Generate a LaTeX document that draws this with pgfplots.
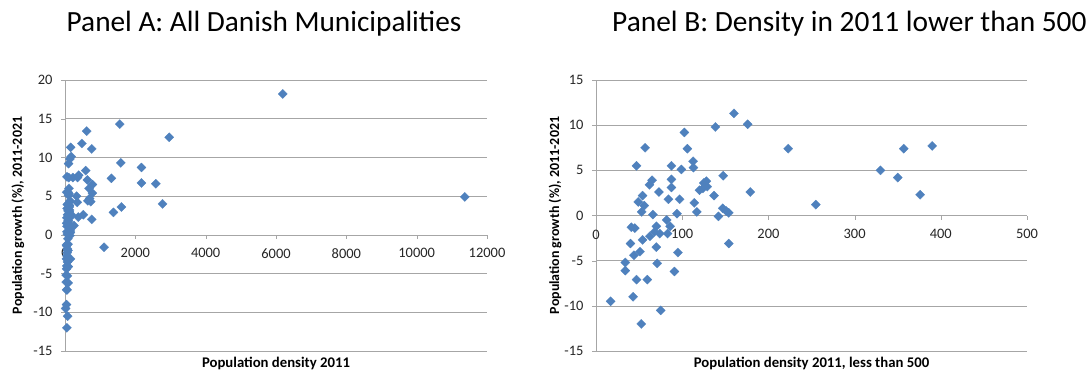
\documentclass[border=0pt]{standalone}
\usepackage{pgfplots}
\pgfplotsset{compat=1.18}
\usepackage{pgfplotstable}
\usepackage{fontspec}
\setmainfont{Carlito}
\definecolor{mk}{HTML}{4F81BD}
\definecolor{grd}{HTML}{A6A6A6}

\pgfplotstableread{
x y
17 -9.5
34 -5.2
34 -6.1
40 -3.1
41 -1.3
45 -1.4
43 -9.0
47 5.5
47 -7.1
44 -4.4
51 -4.0
49 1.5
53 0.4
52.5 -12.0
54 2.2
56 1.1
57 7.5
54 -2.7
59.5 -7.1
62 3.4
65 3.9
62.5 -2.3
66 0.1
68 -1.8
70 -3.5
71 -5.3
73 2.6
70 -1.2
74 -2.0
75 -10.5
82 -0.5
84 1.8
86 -1.2
83 -2.0
87.5 3.1
87.5 4.0
87.5 5.5
91 -6.2
94 0.2
97 1.8
95 -4.1
99 5.1
102.5 9.2
106 7.4
112.6 6.0
113 5.3
114 1.4
117 0.4
120 2.8
125 3.6
129 3.2
124 3.0
128 3.8
137 2.2
138.5 9.8
142 -0.1
147.5 4.4
147 0.8
151 0.5
154 0.3
154 -3.1
160 11.3
176 10.1
179 2.6
223 7.4
255 1.2
330 5.0
350 4.2
357 7.4
376 2.3
390 7.7
}\lowdens

\pgfplotstableread{
x y
480 11.8
520 2.6
589 8.3
617 13.4
636 7.1
650 4.4
684 6.0
700 4.7
731 4.3
760 11.1
760 2.0
779 5.4
780 6.5
1111 -1.6
1320 7.3
1377 2.9
1557 14.3
1586 9.3
1605 3.6
2175 8.7
2175 6.7
2583 6.6
2773 4.0
2963 12.6
6192 18.2
11368 4.9
}\highdens

\pgfplotsset{
  myax/.style={
    scale only axis,
    height=271bp,
    axis y line=left,
    axis x line=middle,
    axis line style={-, draw=grd},
    ymajorgrids,
    grid style={draw=grd, line width=0.6pt},
    major tick length=4bp,
    tick align=outside,
    tick style={draw=grd},
    ytick distance=5,
    ymin=-15,
    clip=false,
    scaled x ticks=false,
    /pgf/number format/assume math mode=true,
    /pgf/number format/.cd, 1000 sep={}, /pgfplots/.cd,
    tick label style={font=\fontsize{14.5}{16}\selectfont, text=black!85},
    yticklabel style={xshift=-5bp},
    xticklabel style={yshift=-6bp, fill=none},
    xlabel style={at={(axis description cs:0.5,0)}, anchor=center, yshift=-12bp, font=\bfseries\fontsize{14.8}{16}\selectfont},
    ylabel={Population growth (\%), 2011-2021},
  },
  mymark/.style={only marks, mark=diamond*, mark size=4.6bp, mark options={xscale=1.333, fill=mk, draw=mk, line width=0.2pt}},
}

\begin{document}
\begin{tikzpicture}[x=1bp,y=1bp]
\useasboundingbox (0,0) rectangle (1091,371);
\node[font=\fontsize{29.4}{32}\selectfont, anchor=base west, inner sep=0pt] at (66.5,340) {Panel A: All Danish Municipalities};
\node[font=\fontsize{29.5}{32}\selectfont, anchor=base west, inner sep=0pt] at (612,340) {Panel B: Density in 2011 lower than 500};

\begin{axis}[myax, at={(65bp,20bp)}, anchor=south west, width=422bp,
  xmin=0, xmax=12000, xtick={0,2000,4000,6000,8000,10000,12000},
  ymax=20, xlabel={Population density 2011},
  ylabel style={at={(axis description cs:0,0.5)}, anchor=center, yshift=47bp, font=\bfseries\fontsize{14}{16}\selectfont}]
\addplot[mymark] table[x=x,y=y] {\lowdens};
\addplot[mymark] table[x=x,y=y] {\highdens};
\node[font=\fontsize{14.5}{16}\selectfont, text=black!85, anchor=center, yshift=-18bp] at (axis cs:0,0) {0};
\end{axis}

\begin{axis}[myax, at={(596bp,20bp)}, anchor=south west, width=431bp,
  xmin=0, xmax=500, xtick={0,100,200,300,400,500},
  ymax=15, xlabel={Population density 2011, less than 500},
  ylabel style={at={(axis description cs:0,0.5)}, anchor=center, yshift=41bp, font=\bfseries\fontsize{14}{16}\selectfont}]
\addplot[mymark] table[x=x,y=y] {\lowdens};
\node[font=\fontsize{14.5}{16}\selectfont, text=black!85, anchor=center, yshift=-19bp] at (axis cs:0,0) {0};
\end{axis}
\end{tikzpicture}
\end{document}
